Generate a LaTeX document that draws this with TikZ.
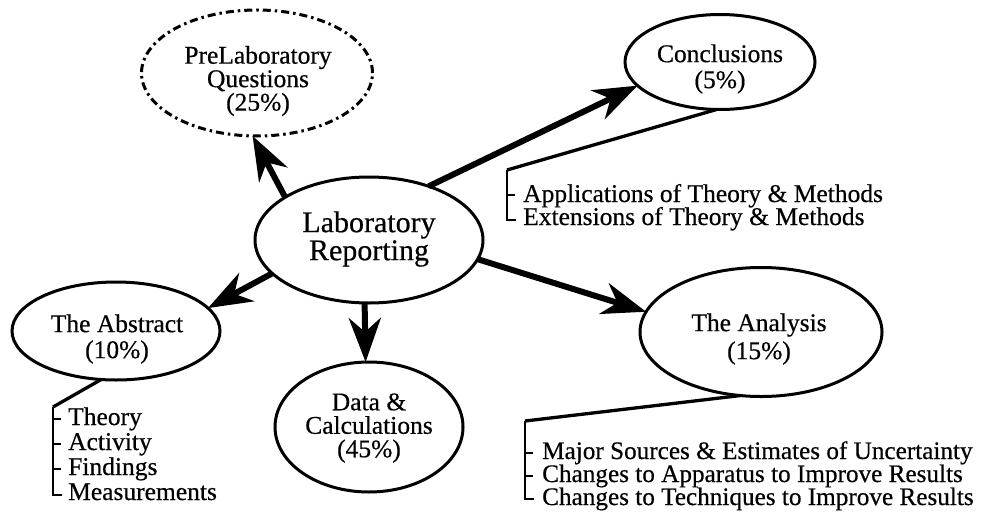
\documentclass[tikz,border=0pt]{standalone}
\usepackage{fontspec}
\setmainfont{Liberation Serif}[UprightFeatures={FakeBold=0.5}]
\usetikzlibrary{arrows.meta,shapes.geometric,calc}
\begin{document}
\begin{tikzpicture}[x=1pt,y=-1pt,
  bub/.style={draw, ellipse, line width=3pt, inner sep=0pt, outer sep=0pt},
  dashbub/.style={bub, dash pattern=on 8pt off 4pt on 2.5pt off 4pt},
  txt/.style={align=center, inner sep=0pt, font=\fontsize{25.5}{24}\selectfont},
  arr/.style={line width=6pt, -{Stealth[length=44pt,width=32pt,inset=14pt]}},
  stem/.style={line width=3.3pt},
  brk/.style={line width=2.6pt},
  tick/.style={line width=2pt},
  item/.style={anchor=base west, inner sep=0pt, font=\fontsize{25.5}{24}\selectfont}]
\useasboundingbox (0,0) rectangle (981,511);

% ellipses
\node[bub, minimum width=228pt, minimum height=126pt] (lab) at (369,240) {};
\node[dashbub, minimum width=231pt, minimum height=126pt] (pre) at (257,73) {};
\node[bub, minimum width=190pt, minimum height=95pt] (con) at (720,62) {};
\node[bub, minimum width=208pt, minimum height=98pt] (abs) at (116,331) {};
\node[bub, minimum width=188pt, minimum height=130pt] (dat) at (369,427) {};
\node[bub, minimum width=242pt, minimum height=129pt] (ana) at (761,332) {};

% texts
\node[txt, font=\fontsize{30}{28}\selectfont] (labT) at (369,239) {Laboratory\\Reporting};
\node[txt, font=\fontsize{25.5}{23.5}\selectfont] (preT) at (258,81) {PreLaboratory\\Questions\\(25\%)};
\node[txt, font=\fontsize{25.5}{26}\selectfont] (conT) at (720,69) {Conclusions\\(5\%)};
\node[txt, font=\fontsize{25.5}{26}\selectfont] (absT) at (117,339) {The Abstract\\(10\%)};
\node[txt, font=\fontsize{25.5}{23.5}\selectfont] (datT) at (369,428) {Data \&\\Calculations\\(45\%)};
\node[txt, font=\fontsize{25.5}{28}\selectfont] (anaT) at (759,339) {The Analysis\\(15\%)};

% arrows
\draw[arr] (lab.153) -- (pre.266);
\draw[arr] (lab.42) -- (con.196);
\draw[arr] (lab.199) -- (abs.14);
\draw[arr] (lab.266) -- (dat.93);
\draw[arr] (lab.-10) -- (ana.170);

% Abstract list
\node[item] (a1) at (68,425) {Theory};
\node[item] (a2) at (68,450) {Activity};
\node[item] (a3) at (68,475) {Findings};
\node[item] (a4) at (68,500) {Measurements};
\coordinate (aK) at (53,407);
\draw[stem] (abs.253) -- (aK);
\draw[brk] (aK) -- ($(a4.base west)+(-15,-5)$) -- ($(a4.base west)+(-6,-5)$);
\foreach \n in {a1,a2,a3}
  \draw[tick] ($(\n.base west)+(-15,-6)$) -- ($(\n.base west)+(-7,-6)$);

% Conclusions list
\node[item] (c1) at (523,202) {Applications of Theory \& Methods};
\node[item] (c2) at (523,225) {Extensions of Theory \& Methods};
\coordinate (cK) at (507,170);
\draw[stem] (con.266) -- (cK);
\draw[brk] (cK) -- ($(c2.base west)+(-16,-5)$) -- ($(c2.base west)+(-7,-5)$);
\draw[tick] ($(c1.base west)+(-16,-7)$) -- ($(c1.base west)+(-8,-7)$);

% Analysis list
\node[item, font=\fontsize{25.2}{23}\selectfont] (n1) at (542,459) {Major Sources \& Estimates of Uncertainty};
\node[item, font=\fontsize{25.2}{23}\selectfont] (n2) at (542,482) {Changes to Apparatus to Improve Results};
\node[item, font=\fontsize{25.2}{23}\selectfont] (n3) at (542,505) {Changes to Techniques to Improve Results};
\coordinate (nK) at (525,421);
\draw[stem] (ana.252) -- (nK);
\draw[brk] (nK) -- ($(n3.base west)+(-17,-6)$) -- ($(n3.base west)+(-8,-6)$);
\foreach \n in {n1,n2}
  \draw[tick] ($(\n.base west)+(-17,-6)$) -- ($(\n.base west)+(-9,-6)$);
\end{tikzpicture}
\end{document}
